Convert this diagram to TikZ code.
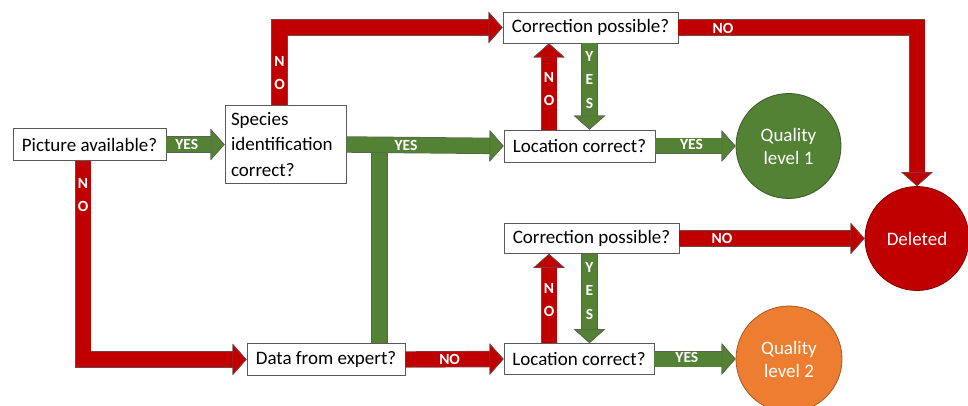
\documentclass[tikz,border=0pt]{standalone}
\usepackage{fontspec}
\setmainfont{Carlito}
\usetikzlibrary{arrows.meta,calc}
\definecolor{myred}{HTML}{C00000}
\definecolor{mygreen}{HTML}{548235}
\definecolor{myorange}{HTML}{ED7D31}
\definecolor{edgecol}{HTML}{5A5A5A}
\begin{document}
\begin{tikzpicture}[x=1pt,y=-1pt,
  qbox/.style={draw=edgecol, line width=0.8pt, fill=white, inner sep=0pt, font=\fontsize{19}{23}\selectfont},
  endcircle/.style={circle, draw=#1!70!black, line width=0.8pt, fill=#1, text=white, inner sep=0pt, minimum size=104pt, align=center, font=\fontsize{19}{23}\selectfont},
  fat/.style={draw=#1, line width=15pt, line join=miter,
     -{Triangle[length=14pt,width=31pt,line width=0.6pt,color=edgecol!80!#1,fill=#1]},
     preaction={draw=edgecol!80!#1, line width=16.4pt, -{Triangle[length=14pt,width=31pt]}}},
  fatnotip/.style={draw=#1, line width=15pt, line join=miter,
     preaction={draw=edgecol!80!#1, line width=16.4pt}},
  lbl/.style={text=white, font=\bfseries\fontsize{15.5}{23}\selectfont, inner sep=0pt},
  vlbl/.style={text=white, font=\bfseries\fontsize{15.5}{23.5}\selectfont, inner sep=0pt, align=center}
]
\useasboundingbox (0,0) rectangle (968,406);

% question boxes
\node[qbox, minimum width=153pt, minimum height=32pt] (pic) at (89.5,144.5) {Picture available?};
\node[qbox, minimum width=121pt, minimum height=78pt, align=left, text width=109pt, font=\fontsize{19}{25.5}\selectfont] (spec) at (285.5,144.5) {Species\\identification\\correct?};
\node[qbox, minimum width=158pt, minimum height=32pt] (data) at (326,359.5) {Data from expert?};
\node[qbox, minimum width=175pt, minimum height=31pt] (corr1) at (590.5,27.5) {Correction possible?};
\node[qbox, minimum width=151pt, minimum height=32pt] (loc1) at (579.5,146) {Location correct?};
\node[qbox, minimum width=175pt, minimum height=30pt] (corr2) at (591.5,238.5) {Correction possible?};
\node[qbox, minimum width=150pt, minimum height=31pt] (loc2) at (579,359) {Location correct?};

% end circles
\node[endcircle=mygreen, minimum size=105pt] (q1) at (788.5,146) {Quality\\level 1};
\node[endcircle=myorange, minimum size=106pt] (q2) at (789,359) {Quality\\level 2};
\node[endcircle=myred, minimum size=104pt] (del) at (917,238.5) {Deleted};

% helper coordinates
\coordinate (c1) at (83,0);
\coordinate (c2) at (279.5,0);
\coordinate (j) at (379.5,145);
\coordinate (n1) at (549,0);
\coordinate (y1) at (589.5,0);

% connectors
\draw[fat=mygreen] (pic.east) -- (spec.west) node[lbl, pos=0.35] {YES};
\draw[fat=myred] (pic.south -| c1) |- (data.west);
\draw[fat=myred] (spec.north -| c2) |- (corr1.west);
\draw[fatnotip=mygreen] (data.north -| j) -- (j);
\draw[fat=mygreen] (spec.east) -- (loc1.west);
\draw[fat=myred] (data.east) -- (loc2.west) node[lbl, pos=0.45] {NO};
\draw[fat=myred] (corr1.east) -| (del.north);
\draw[fat=myred] (loc1.north -| n1) -- (corr1.south -| n1);
\draw[fat=mygreen] (corr1.south -| y1) -- (loc1.north -| y1);
\draw[fat=mygreen] (loc1.east) -- (q1.west) node[lbl, pos=0.45, yshift=2pt] {YES};
\draw[fat=myred] (corr2.east) -- (del.west) node[lbl, pos=0.23] {NO};
\draw[fat=myred] (loc2.north -| n1) -- (corr2.south -| n1);
\draw[fat=mygreen] (corr2.south -| y1) -- (loc2.north -| y1);
\draw[fat=mygreen] (loc2.east) -- (q2.west) node[lbl, pos=0.4, yshift=2pt] {YES};

% labels on elbows / vertical stems
\node[lbl] (l1) at (406,145.5) {YES};
\node[lbl] (l2) at (723,28.5) {NO};
\node[vlbl] (v1) at (83,195) {N\\O};
\node[vlbl] (v2) at (279.5,73) {N\\O};
\node[vlbl] (v3) at (549,89) {N\\O};
\node[vlbl] (v4) at (589.5,80) {Y\\E\\S};
\node[vlbl] (v5) at (549,300) {N\\O};
\node[vlbl] (v6) at (589.5,291) {Y\\E\\S};
\end{tikzpicture}
\end{document}
